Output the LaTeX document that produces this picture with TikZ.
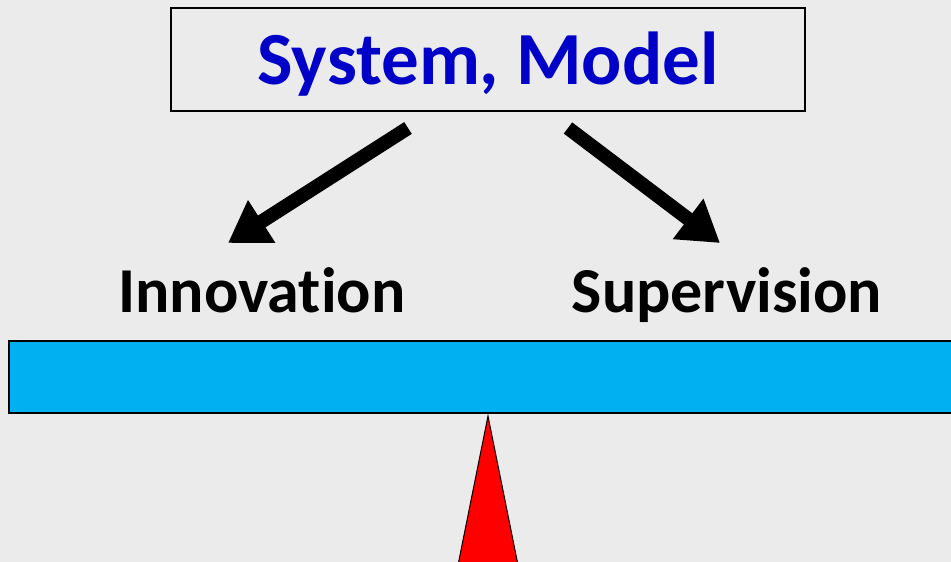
\documentclass[tikz,border=0pt]{standalone}
\usepackage{fontspec}
\setmainfont[Ligatures=CommonOff]{Carlito}
\usetikzlibrary{arrows.meta}
\definecolor{bgc}{HTML}{EBEBEB}
\definecolor{titleblue}{HTML}{0000C8}
\definecolor{barblue}{HTML}{00B0F0}
\tikzset{
  bigarrow/.style={line width=14pt,-{Triangle[length=40pt,width=48pt]},shorten >=0pt},
  lbl/.style={font=\fontsize{64}{70}\selectfont\bfseries,anchor=base,inner sep=0pt},
}
\begin{document}
\begin{tikzpicture}[x=1pt,y=-1pt]
\fill[bgc] (0,0) rectangle (951,562);
\useasboundingbox (0,0) rectangle (951,562);
\node[draw=black,line width=2pt,minimum width=634pt,minimum height=103pt,inner sep=0pt] (box) at (488,59.5) {};
\node[anchor=base,inner sep=0pt,text=titleblue,font=\fontsize{75}{82}\selectfont\bfseries] (title) at (488,84) {System, Model};
\node[lbl] (inno) at (262,312) {Innovation};
\node[lbl] (sup) at (727,312) {Supervision};
\coordinate (l1) at (408,128);
\coordinate (l2) at (228,243);
\coordinate (r1) at (568,128);
\coordinate (r2) at (720,243);
\draw[bigarrow] (l1) -- (l2);
\draw[bigarrow] (r1) -- (r2);
\draw[fill=barblue,line width=2pt] (9,341) rectangle (965,413);
\node (bar) at (488,377) {};
\draw[fill=red,line width=1pt] (488,416) -- (518,565) -- (458,565) -- cycle;
\end{tikzpicture}
\end{document}
